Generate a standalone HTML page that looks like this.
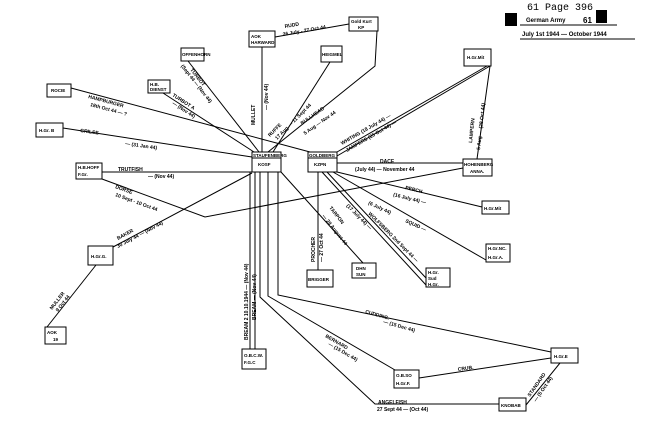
<!DOCTYPE html>
<html><head><style>
html,body{margin:0;padding:0;background:#fff;}
svg{display:block;}
text{font-family:"Liberation Sans",sans-serif;font-weight:bold;fill:#000;}
.t{font-size:5px;}
.b{font-size:4.5px;}
</style></head><body>
<svg width="650" height="430" viewBox="0 0 650 430" xmlns="http://www.w3.org/2000/svg">
<g stroke="#000" stroke-width="1" fill="none">
<!-- boxes -->
<rect x="252" y="152" width="29" height="20"/>
<rect x="308" y="152" width="29" height="20"/>
<rect x="249" y="31" width="26" height="16"/>
<rect x="349" y="17" width="29" height="14"/>
<rect x="321" y="46" width="21" height="16"/>
<rect x="181" y="48" width="23" height="13"/>
<rect x="148" y="80" width="22" height="13"/>
<rect x="47" y="84" width="24" height="13"/>
<rect x="36" y="123" width="27" height="14"/>
<rect x="76" y="163" width="26" height="16"/>
<rect x="88" y="246" width="25" height="19"/>
<rect x="45" y="327" width="21" height="17"/>
<rect x="242" y="349" width="24" height="20"/>
<rect x="464" y="49" width="27" height="17"/>
<rect x="463" y="159" width="29" height="17"/>
<rect x="482" y="201" width="27" height="13"/>
<rect x="486" y="244" width="24" height="18"/>
<rect x="426" y="268" width="24" height="19"/>
<rect x="352" y="263" width="24" height="15"/>
<rect x="307" y="270" width="26" height="17"/>
<rect x="551" y="348" width="27" height="15"/>
<rect x="394" y="370" width="25" height="18"/>
<rect x="499" y="398" width="27" height="13"/>
<line x1="252" y1="158" x2="281" y2="158"/>
<line x1="308" y1="158" x2="337" y2="158"/>
<!-- lines from A -->
<line x1="71" y1="88" x2="310" y2="152"/>
<line x1="63" y1="128" x2="252" y2="157"/>
<line x1="102" y1="172" x2="252" y2="172"/>
<polyline points="102,179 205,217 463,168"/>
<polyline points="252,173 113,247"/>
<line x1="188" y1="61" x2="259" y2="152"/>
<line x1="163" y1="93" x2="254" y2="152"/>
<line x1="262" y1="47" x2="262" y2="152"/>
<line x1="275" y1="37" x2="349" y2="24"/>
<polyline points="377,31 375,66 268,152"/>
<line x1="330" y1="62" x2="273" y2="152"/>
<line x1="281" y1="172" x2="363" y2="263"/>
<line x1="250" y1="172" x2="250" y2="349"/>
<line x1="255" y1="172" x2="255" y2="349"/>
<polyline points="260,172 260,297 375,404 499,404"/>
<polyline points="268,172 268,296 395,370"/>
<polyline points="278,172 278,295 551,352"/>
<!-- lines from B -->
<line x1="337" y1="152" x2="487" y2="66"/>
<line x1="337" y1="156" x2="490" y2="66"/>
<line x1="490" y1="66" x2="477" y2="159"/>
<line x1="337" y1="163" x2="463" y2="163"/>
<line x1="337" y1="172" x2="482" y2="207"/>
<line x1="333" y1="172" x2="486" y2="260"/>
<line x1="327" y1="172" x2="426" y2="278"/>
<line x1="322" y1="172" x2="426" y2="285"/>
<line x1="318" y1="172" x2="318" y2="270"/>
<line x1="96" y1="265" x2="47" y2="327"/>
<line x1="419" y1="378" x2="551" y2="358"/>
<polyline points="526,405 560,363"/>
<line x1="520" y1="25" x2="617" y2="25"/>
<line x1="520" y1="39" x2="635" y2="39"/>
</g>
<rect x="505" y="13" width="12" height="13" fill="#000"/>
<rect x="596" y="10" width="11" height="13" fill="#000"/>
<text x="527" y="10" style="font-family:'Liberation Mono',monospace;font-weight:normal;font-size:10px">61 Page 396</text>
<text x="526" y="22" class="t" style="font-size:6px">German Army</text>
<text x="583" y="23" style="font-size:8px">61</text>
<text x="522" y="36" class="t" style="font-size:6px">July 1st 1944 — October 1944</text>
<!-- box labels -->
<text x="253" y="157" class="b">STAUFENBERG</text><text x="258" y="166" class="b">KOSF</text>
<text x="309" y="157" class="b">GOLDBERG</text><text x="314" y="166" class="b">KZPN</text>
<text x="251" y="38" class="b">AOK</text><text x="251" y="44" class="b">HARWARD</text>
<text x="351" y="23" class="b">Gold Kurt</text><text x="358" y="29" class="b">KP</text>
<text x="322" y="56" class="b">HEIGMEL</text>
<text x="182" y="56" class="b">OFFENHORN</text>
<text x="150" y="86" class="b">H.B.</text><text x="150" y="91" class="b">DIENST</text>
<text x="51" y="92" class="b">ROCIE</text>
<text x="39" y="132" class="b">H.Gr. B</text>
<text x="78" y="169" class="b">H.B.HOFF</text><text x="78" y="176" class="b">F.Gr.</text>
<text x="91" y="258" class="b">H.Gr.G.</text>
<text x="47" y="334" class="b">AOK</text><text x="53" y="341" class="b">19</text>
<text x="244" y="357" class="b">O.B.C.W.</text><text x="244" y="364" class="b">F.G.C</text>
<text x="467" y="59" class="b">H.Gr.Mit</text>
<text x="464" y="166" class="b">HOHENBERG</text><text x="470" y="173" class="b">ANNA.</text>
<text x="484" y="210" class="b">H.Gr.Mit</text>
<text x="488" y="250" class="b">H.Gr.NC.</text><text x="488" y="259" class="b">H.Gr.A.</text>
<text x="428" y="274" class="b">H.Gr.</text><text x="428" y="280" class="b">Sud</text><text x="428" y="286" class="b">H.Gr.</text>
<text x="356" y="270" class="b">DHN</text><text x="356" y="276" class="b">SUN</text>
<text x="308" y="281" class="b">BRIGGER</text>
<text x="554" y="358" class="b">H.Gr.E</text>
<text x="396" y="377" class="b">O.B.SO</text><text x="396" y="385" class="b">H.Gr.F.</text>
<text x="501" y="407" class="b">KNOBAB</text>
<!-- connector labels -->
<text x="88" y="98" class="t" transform="rotate(15 88 98)">HAMPBURGER</text>
<text x="90" y="106" class="t" transform="rotate(15 90 106)">18th Oct 44 — ?</text>
<text x="80" y="132" class="t" transform="rotate(8 80 132)">GRILSE</text>
<text x="125" y="145" class="t" transform="rotate(8 125 145)">— (31 Jan 44)</text>
<text x="118" y="171" class="t">TRUTFISH</text>
<text x="148" y="178" class="t">— (Nov 44)</text>
<text x="115" y="188" class="t" transform="rotate(20 115 188)">DORSE</text>
<text x="115" y="196" class="t" transform="rotate(20 115 196)">10 Sept - 10 Oct 44</text>
<text x="118" y="240" class="t" transform="rotate(-28 118 240)">BAKER</text>
<text x="118" y="248" class="t" transform="rotate(-28 118 248)">30 July 44 — (Nov 44)</text>
<text x="52" y="310" class="t" transform="rotate(-52 52 310)">MULLER</text>
<text x="58" y="312" class="t" transform="rotate(-52 58 312)">9 Oct 44</text>
<text x="190" y="70" class="t" transform="rotate(52 190 70)">TURBOT</text>
<text x="175" y="78" class="t" transform="rotate(52 190 78)">(Sept 44 — (Nov 44)</text>
<text x="172" y="96" class="t" transform="rotate(33 172 96)">TURBOT A</text>
<text x="172" y="104" class="t" transform="rotate(33 172 104)">— (Nov 44)</text>
<text x="255" y="125" class="t" transform="rotate(-90 255 125)">MULLET</text>
<text x="268" y="110" class="t" transform="rotate(-90 268 110)">— (Nov 44)</text>
<text x="285" y="28" class="t" transform="rotate(-10 285 28)">RUDD</text>
<text x="283" y="36" class="t" transform="rotate(-10 283 36)">26 July - 27 Oct 44</text>
<text x="270" y="137" class="t" transform="rotate(-45 270 137)">RUFFE</text>
<text x="277" y="140" class="t" transform="rotate(-45 277 140)">17 Aug — 11 Sept 44</text>
<text x="302" y="125" class="t" transform="rotate(-35 302 125)">BULLHEAD</text>
<text x="305" y="135" class="t" transform="rotate(-35 305 135)">5 Aug — Nov 44</text>
<text x="342" y="145" class="t" transform="rotate(-30 342 145)">WHITING (18 July 44) —</text>
<text x="347" y="152" class="t" transform="rotate(-30 347 152)">JAMPERS (25 Oct 44) —</text>
<text x="472" y="143" class="t" transform="rotate(-84 472 143)">LAMPERN</text>
<text x="480" y="150" class="t" transform="rotate(-84 480 150)">5 Aug — (28 Oct 44)</text>
<text x="380" y="163" class="t">DACE</text>
<text x="355" y="171" class="t">(July 44) — November 44</text>
<text x="405" y="189" class="t" transform="rotate(14 405 189)">PERCH</text>
<text x="393" y="196" class="t" transform="rotate(14 393 196)">(16 July 44) —</text>
<text x="368" y="204" class="t" transform="rotate(25 368 204)">(6 July 44)</text>
<text x="405" y="222" class="t" transform="rotate(25 405 222)">SQUID —</text>
<text x="346" y="206" class="t" transform="rotate(45 346 206)">(17 July 44) —</text>
<text x="368" y="214" class="t" transform="rotate(45 368 214)">WOLFSBERG 2nd Sept 44 —</text>
<text x="329" y="208" class="t" transform="rotate(52 329 208)">TARPON</text>
<text x="322" y="216" class="t" transform="rotate(52 322 216)">— 28 August 44</text>
<text x="315" y="262" class="t" transform="rotate(-90 315 262)">PROCHER</text>
<text x="323" y="262" class="t" transform="rotate(-90 323 262)">— 27 Oct 44</text>
<text x="248" y="340" class="t" transform="rotate(-90 248 340)">BREAM 2 10.10.1944 — (Nov 44)</text>
<text x="256" y="320" class="t" transform="rotate(-90 256 320)">BREAM — (Nov 44)</text>
<text x="365" y="313" class="t" transform="rotate(16 365 313)">CUDDING.</text>
<text x="383" y="323" class="t" transform="rotate(16 383 323)">— (15 Dec 44)</text>
<text x="325" y="337" class="t" transform="rotate(30 325 337)">BERNARD</text>
<text x="328" y="345" class="t" transform="rotate(30 328 345)">— (15 Dec 44)</text>
<text x="378" y="404" class="t">ANGELFISH</text>
<text x="377" y="411" class="t">27 Sept 44 — (Oct 44)</text>
<text x="458" y="371" class="t" transform="rotate(-8 458 371)">CRUB.</text>
<text x="530" y="397" class="t" transform="rotate(-55 530 397)">STANDARD</text>
<text x="536" y="402" class="t" transform="rotate(-55 536 402)">— (5 Oct 44)</text>
</svg>
</body></html>
